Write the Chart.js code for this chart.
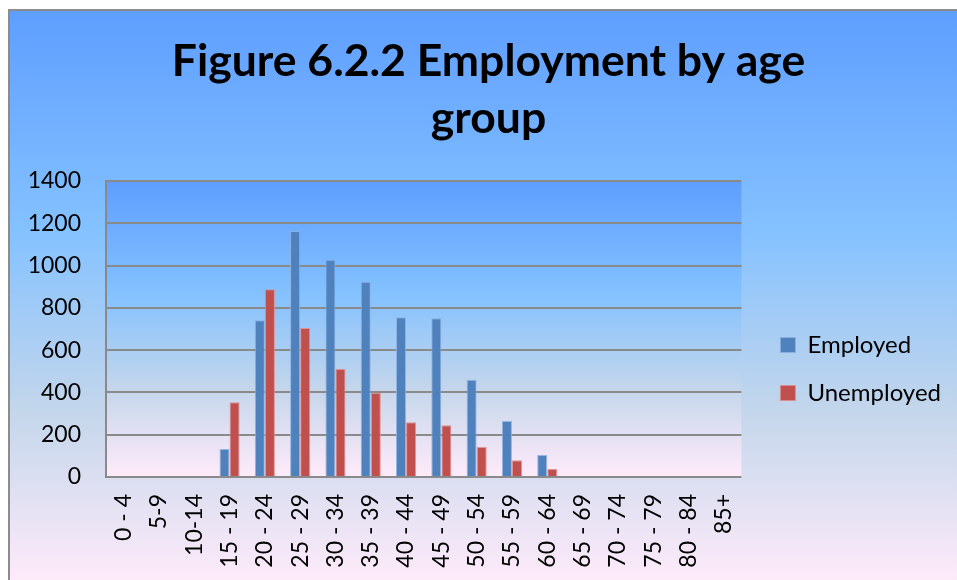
<!DOCTYPE html>
<html>
<head>
<meta charset="utf-8">
<title>Employment by age group</title>
<script src="https://cdn.jsdelivr.net/npm/chart.js@4/dist/chart.umd.min.js"></script>
<style>
  html, body { margin: 0; padding: 0; background: #fff; overflow: hidden; }
  #wrap { position: absolute; left: 0; top: 0; width: 977px; height: 580px; }
</style>
</head>
<body>
<div id="wrap"><canvas id="ageChart"></canvas></div>
<script>
const ageGroups = ["0 - 4", "5-9", "10-14", "15 - 19", "20 - 24", "25 - 29", "30 - 34", "35 - 39", "40 - 44",
  "45 - 49", "50 - 54", "55 - 59", "60 - 64", "65 - 69", "70 - 74", "75 - 79", "80 - 84", "85+"];
const employed = [0, 0, 0, 132, 741, 1164, 1028, 924, 755, 751, 460, 265, 104, 0, 0, 0, 0, 0];
const unemployed = [0, 0, 0, 353, 888, 705, 511, 399, 259, 245, 142, 79, 38, 0, 0, 0, 0, 0];
const yMax = 1400;
const yStep = 200;

// "Daybreak" style fill: deep blue at the top fading to pale pink
const daybreakStops = [[0, "#5E9EFF"], [0.39, "#85C2FF"], [0.7, "#C4D6EB"], [1, "#FFEBFA"]];
function daybreak(ctx, y0, y1) {
  const g = ctx.createLinearGradient(0, y0, 0, y1);
  daybreakStops.forEach(([p, c]) => g.addColorStop(p, c));
  return g;
}

const backdrop = {
  id: "backdrop",
  beforeDraw(chart) {
    const { ctx, chartArea: a, width, height } = chart;
    ctx.save();
    ctx.fillStyle = "#fff";
    ctx.fillRect(0, 0, width, height);
    ctx.fillStyle = daybreak(ctx, 10, 584);
    ctx.fillRect(10, 11, width - 10, height - 11);
    ctx.fillStyle = "#8c8c8c";
    ctx.fillRect(8, 9, 2, height - 9);
    ctx.fillRect(8, 9, width - 8, 2);
    ctx.fillStyle = daybreak(ctx, a.top, a.bottom);
    ctx.fillRect(a.left, a.top, a.right - a.left, a.bottom - a.top);
    ctx.restore();
  },
  // centre the title on the framed panel, push the legend away from the plot and down
  afterLayout(chart) {
    const t = chart.titleBlock;
    t.left += 10.5; t.right += 10.5;
    const l = chart.legend;
    l.left += 15; l.right += 15;
    l.top += 40; l.bottom += 40;
  }
};

const tickFont = { family: "Lato", size: 23 };

new Chart(document.getElementById("ageChart"), {
  type: "bar",
  data: {
    labels: ageGroups,
    datasets: [
      { label: "Employed", data: employed, backgroundColor: "#4F81BD", borderColor: "rgba(140,175,225,0.9)", borderWidth: 1 },
      { label: "Unemployed", data: unemployed, backgroundColor: "#C0504D", borderColor: "rgba(225,140,138,0.9)", borderWidth: 1 },
    ],
  },
  options: {
    responsive: true,
    maintainAspectRatio: false,
    animation: false,
    layout: { padding: { left: 20, right: 41, top: 0, bottom: 0 } },
    datasets: { bar: { categoryPercentage: 0.57, barPercentage: 1 } },
    plugins: {
      title: {
        display: true,
        text: ["Figure 6.2.2 Employment by age", "group"],
        color: "#000",
        font: { family: "Lato", size: 44.5, weight: "bold", lineHeight: 57 / 44.5 },
        padding: { top: 33, bottom: 34 },
      },
      legend: {
        position: "right",
        fullSize: false,
        labels: { color: "#000", font: { family: "Lato", size: 24 }, boxWidth: 15, boxHeight: 15, padding: 24 },
      },
      tooltip: { enabled: false },
    },
    scales: {
      x: {
        grid: { display: false, drawTicks: false },
        border: { display: false },
        ticks: { color: "#000", font: tickFont, minRotation: 90, maxRotation: 90, padding: 17, autoSkip: false },
        afterFit(s) { s.height = 103; },
      },
      y: {
        min: 0,
        max: yMax,
        ticks: { stepSize: yStep, color: "#000", font: tickFont, padding: 25, callback: (v) => String(v) },
        grid: { color: "#8a8a8a", lineWidth: 2, drawTicks: false },
        border: { color: "#8a8a8a", width: 2 },
        afterFit(s) { s.width = 86; },
      },
    },
  },
  plugins: [backdrop],
});
</script>
</body>
</html>
